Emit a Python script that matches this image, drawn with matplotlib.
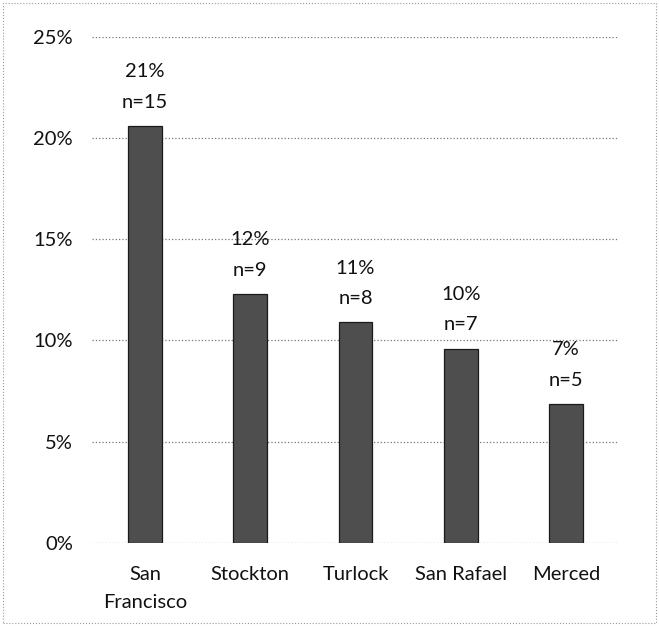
import matplotlib.pyplot as plt
from matplotlib.patches import Rectangle

# Dane
cities = ['San\nFrancisco', 'Stockton', 'Turlock', 'San Rafael', 'Merced']
shares = [20.6, 12.3, 10.9, 9.6, 6.85]
pct_labels = ['21%', '12%', '11%', '10%', '7%']
n_labels = ['n=15', 'n=9', 'n=8', 'n=7', 'n=5']
yticks = [0, 5, 10, 15, 20, 25]

plt.rcParams['font.family'] = ['Lato', 'DejaVu Sans']

fig = plt.figure(figsize=(6.59, 6.26), dpi=100)
ax = fig.add_axes([0.14, 0.133, 0.799, 0.808])

x = range(len(cities))
ax.bar(x, shares, width=0.32, color='#4e4e4e', edgecolor='#1a1a1a', linewidth=0.9, zorder=3)

# Etykiety nad slupkami
for i, v in enumerate(shares):
    ax.annotate(n_labels[i], (i, v), xytext=(0, 17), textcoords='offset points',
                ha='center', va='center', fontsize=14.5, color='#111111')
    ax.annotate(pct_labels[i], (i, v), xytext=(0, 39), textcoords='offset points',
                ha='center', va='center', fontsize=14.5, color='#111111')

ax.set_ylim(0, 25)
ax.set_xlim(-0.5, len(cities) - 0.5)
ax.set_yticks(yticks)
ax.set_yticklabels([f'{t}%' for t in yticks])
ax.set_xticks(list(x))
ax.set_xticklabels(cities, linespacing=1.75)
ax.tick_params(axis='both', length=0, labelsize=14.5, colors='#111111')
ax.tick_params(axis='y', pad=14)
ax.tick_params(axis='x', pad=17)

ax.grid(axis='y', linestyle=':', color='#777777', linewidth=0.9, zorder=0)
for s in ax.spines.values():
    s.set_visible(False)

# Ramka wokol wykresu
fig.patches.append(Rectangle((0.004, 0.004), 0.992, 0.992, transform=fig.transFigure,
                             fill=False, linestyle=':', edgecolor='#999999', linewidth=0.8))

fig.savefig('out.png', dpi=100)
